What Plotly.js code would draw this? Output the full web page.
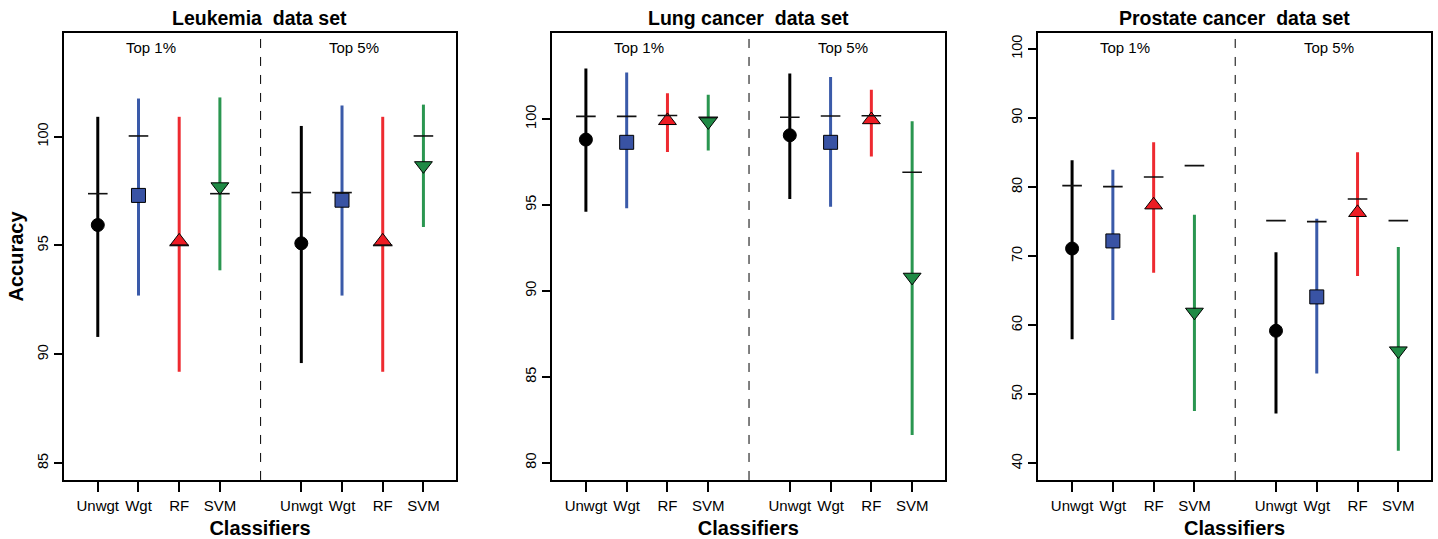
<!DOCTYPE html>
<html>
<head>
<meta charset="utf-8">
<script src="https://cdn.plot.ly/plotly-3.0.1.min.js"></script>
<style>html,body{margin:0;padding:0;background:#fff;}#chart{width:1438px;height:539px;}</style>
</head>
<body>
<div id="chart"></div>
<script>
// ---------------- data ----------------
const classifiers = ["Unwgt", "Wgt", "RF", "SVM"];
const groups = ["Top 1%", "Top 5%"];
const panelTitles = ["Leukemia\u00a0 data set", "Lung cancer\u00a0 data set", "Prostate cancer\u00a0 data set"];
// order: Unwgt, Wgt, RF, SVM (Top 1%), then Unwgt, Wgt, RF, SVM (Top 5%)
const leukMean = [95.94, 97.3, 95.2, 97.7, 95.1, 97.08, 95.2, 98.67];
const leukLow  = [90.8, 92.7, 89.2, 93.86, 89.6, 92.7, 89.2, 95.85];
const leukHigh = [100.91, 101.75, 100.91, 101.8, 100.49, 101.43, 100.91, 101.47];
const leukDash = [97.38, 100.03, 95.0, 97.38, 97.43, 97.43, 95.0, 100.03];

const lungMean = [98.8, 98.64, 99.9, 99.84, 99.05, 98.64, 99.95, 90.8];
const lungLow  = [94.6, 94.8, 98.08, 98.17, 95.34, 94.9, 97.82, 81.62];
const lungHigh = [102.93, 102.7, 101.5, 101.41, 102.64, 102.44, 101.7, 99.86];
const lungDash = [100.15, 100.15, 100.2, 100.1, 100.1, 100.17, 100.19, 96.9];

const prostMean = [71.1, 72.2, 77.4, 61.9, 59.2, 64.1, 76.3, 56.3];
const prostLow  = [57.96, 60.75, 67.6, 47.57, 47.24, 53.03, 67.13, 41.83];
const prostHigh = [83.88, 82.52, 86.49, 76.0, 70.56, 75.42, 85.04, 71.33];
const prostDash = [80.2, 80.06, 81.46, 83.1, 75.14, 74.99, 78.28, 75.14];

const tickLabels = ["Unwgt", "Wgt", "RF", "SVM", "Unwgt", "Wgt", "RF", "SVM"];

// ---------------- style ----------------
const FONT = "Liberation Sans, Arial, Helvetica, sans-serif";
const fillColors = ["#000000", "#3953a4", "#ed1c24", "#1f8a45"];
const lineColors = ["#000000", "#3a5aa9", "#ee2a30", "#2a9650"];
const symbols = ["circle", "square", "triangle-up", "triangle-down"];
const sizes = [13, 14, 15.5, 15.5];
const xPos = [1, 2, 3, 4, 6, 7, 8, 9];

const panels = [
  {mean: leukMean, low: leukLow, high: leukHigh, dash: leukDash,
   range: [84.23, 104.76], ticks: [85, 90, 95, 100], dom: [0.0445, 0.3171]},
  {mean: lungMean, low: lungLow, high: lungHigh, dash: lungDash,
   range: [79.0, 105.0], ticks: [80, 85, 90, 95, 100], dom: [0.3839, 0.6570]},
  {mean: prostMean, low: prostLow, high: prostHigh, dash: prostDash,
   range: [37.6, 102.3], ticks: [40, 50, 60, 70, 80, 90, 100], dom: [0.7220, 0.9951]}
];
const yDom = [0.1095, 0.9388];

const traces = [];
const layout = {
  width: 1438, height: 539,
  margin: {l: 0, r: 0, t: 0, b: 0},
  paper_bgcolor: "#ffffff", plot_bgcolor: "#ffffff",
  showlegend: false,
  font: {family: FONT, color: "#000"},
  annotations: [], shapes: []
};

panels.forEach((p, pi) => {
  const sfx = pi === 0 ? "" : String(pi + 1);
  const xa = "x" + sfx, ya = "y" + sfx;
  for (let c = 0; c < 4; c++) {
    const idx = [c, c + 4];
    traces.push({
      type: "scatter", mode: "markers", xaxis: xa, yaxis: ya,
      name: classifiers[c],
      x: idx.map(i => xPos[i]),
      y: idx.map(i => p.mean[i]),
      error_y: {
        type: "data", symmetric: false,
        array: idx.map(i => p.high[i] - p.mean[i]),
        arrayminus: idx.map(i => p.mean[i] - p.low[i]),
        width: 0, thickness: 3, color: lineColors[c]
      },
      marker: {symbol: symbols[c], size: sizes[c], color: fillColors[c],
               line: {color: "#000", width: 1}},
      hoverinfo: "x+y"
    });
  }
  traces.push({
    type: "scatter", mode: "markers", xaxis: xa, yaxis: ya, name: "dash",
    x: xPos, y: p.dash,
    marker: {symbol: "line-ew", size: 14, color: "#111", line: {color: "#111", width: 1.6}},
    hoverinfo: "y"
  });

  layout["xaxis" + sfx] = {
    domain: p.dom, anchor: ya, range: [0.17, 9.8],
    tickmode: "array", tickvals: xPos, ticktext: tickLabels,
    tickangle: 0,
    ticks: "outside", ticklen: 10, tickwidth: 2, tickcolor: "#000",
    tickfont: {size: 15, family: FONT, color: "#000"},
    ticklabelstandoff: 1,
    showline: true, mirror: true, linewidth: 2, linecolor: "#000",
    showgrid: false, zeroline: false, fixedrange: true,
    title: {text: "<b>Classifiers</b>", font: {size: 20, family: FONT, color: "#000"}, standoff: 8}
  };
  layout["yaxis" + sfx] = {
    domain: yDom, anchor: xa, range: p.range,
    tickmode: "array", tickvals: p.ticks,
    tickangle: -90,
    ticks: "outside", ticklen: 8, tickwidth: 2, tickcolor: "#000",
    tickfont: {size: 14.5, family: FONT, color: "#000"},
    showline: true, mirror: true, linewidth: 2, linecolor: "#000",
    showgrid: false, zeroline: false, fixedrange: true,
    title: pi === 0 ? {text: "<b>Accuracy</b>", font: {size: 20, family: FONT, color: "#000"}, standoff: 6} : {text: ""}
  };

  layout.shapes.push({
    type: "line", xref: xa, yref: ya + " domain", x0: 5, x1: 5, y0: 0, y1: 1,
    line: {color: "#000", width: 1, dash: "dash"}
  });
  groups.forEach((g, gi) => {
    layout.annotations.push({
      xref: xa, yref: ya + " domain", x: gi === 0 ? 2.3 : 7.3, y: 0.967,
      text: g, showarrow: false, xanchor: "center", yanchor: "middle",
      font: {size: 15, family: FONT, color: "#000"}
    });
  });
  layout.annotations.push({
    xref: xa + " domain", yref: "paper", x: 0.5, y: 1 - 18 / 539,
    text: "<b>" + panelTitles[pi] + "</b>", showarrow: false,
    xanchor: "center", yanchor: "middle",
    font: {size: 19.5, family: FONT, color: "#000"}
  });
});

Plotly.newPlot("chart", traces, layout, {displayModeBar: false, staticPlot: true});
</script>
</body>
</html>
